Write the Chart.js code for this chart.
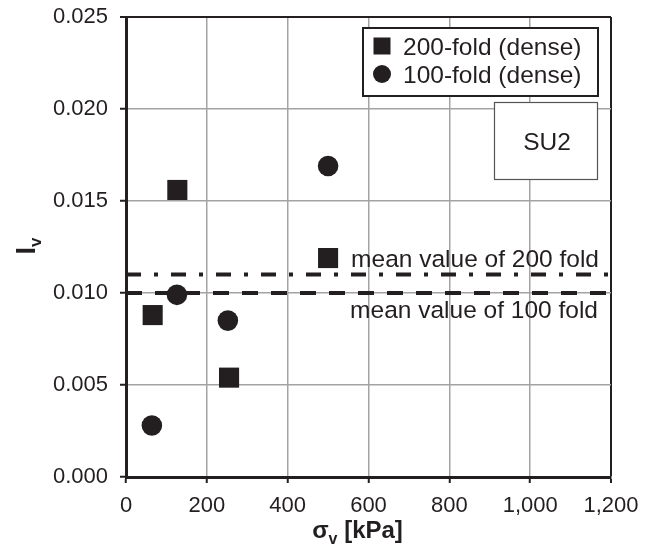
<!DOCTYPE html>
<html><head><meta charset="utf-8">
<script src="https://cdn.jsdelivr.net/npm/chart.js@4/dist/chart.umd.min.js"></script>
<style>html,body{margin:0;padding:0;background:#fff}#wrap{width:654px;height:548px}</style>
</head><body><div id="wrap"><canvas id="c" width="654" height="548"></canvas></div>
<script>
// ---- data ----
const fold200X = [127, 66, 255, 500];
const fold200Y = [0.0156, 0.0088, 0.0054, 0.0119];
const fold100X = [126, 252, 64, 500];
const fold100Y = [0.0099, 0.0085, 0.0028, 0.0169];
const mean200 = 0.0110;
const mean100 = 0.0100;
const xTicks = [0, 200, 400, 600, 800, 1000, 1200];
const yTicks = [0, 0.005, 0.010, 0.015, 0.020, 0.025];
const seriesLabels = ['200-fold (dense)', '100-fold (dense)'];
const meanLabels = ['mean value of 200 fold', 'mean value of 100 fold'];
const panelLabel = 'SU2';

const INK = '#231f20';
const GRID = '#a3a3a3';
const FONT = '"Liberation Sans", Arial, Helvetica, sans-serif';

const pts = (xs, ys) => xs.map((x, i) => ({x: x, y: ys[i]}));
const xMin = xTicks[0], xMax = xTicks[xTicks.length - 1];
const yMin = yTicks[0], yMax = yTicks[yTicks.length - 1];

const overlay = {
  id: 'overlay',
  afterDraw(chart) {
    const ctx = chart.ctx;
    const ys = chart.scales.y;
    ctx.save();
    ctx.fillStyle = INK; ctx.strokeStyle = INK;

    // legend box
    ctx.fillStyle = '#fff';
    ctx.fillRect(363, 28, 235, 68);
    ctx.lineWidth = 2;
    ctx.strokeRect(363, 28, 235, 68);
    ctx.fillStyle = INK;
    ctx.fillRect(373.5, 37.5, 17, 17);
    ctx.beginPath(); ctx.arc(382, 74, 9, 0, Math.PI * 2); ctx.fill();
    ctx.font = '24.5px ' + FONT;
    ctx.textAlign = 'left'; ctx.textBaseline = 'alphabetic';
    ctx.fillText(seriesLabels[0], 403, 54.5);
    ctx.fillText(seriesLabels[1], 403, 82.5);

    // panel label box
    ctx.fillStyle = '#fff';
    ctx.fillRect(494, 102, 104, 77);
    ctx.lineWidth = 1.2; ctx.strokeStyle = '#555';
    ctx.strokeRect(494.5, 102.5, 103, 77);
    ctx.fillStyle = INK;
    ctx.textAlign = 'center';
    ctx.fillText(panelLabel, 547, 150);

    // mean annotations
    ctx.textAlign = 'right';
    ctx.fillText(meanLabels[0], 599, ys.getPixelForValue(mean200) - 8);
    ctx.fillText(meanLabels[1], 598, ys.getPixelForValue(mean100) + 25);

    // x axis title  σ_v [kPa]
    const big = 'bold 24px ' + FONT, small = 'bold 16px ' + FONT;
    ctx.textAlign = 'left';
    ctx.font = big; const w1 = ctx.measureText('σ').width;
    ctx.font = small; const w2 = ctx.measureText('v').width;
    ctx.font = big; const w3 = ctx.measureText(' [kPa]').width;
    const x0 = 357.5 - (w1 + w2 + w3) / 2;
    const by = 538;
    ctx.font = big; ctx.fillText('σ', x0, by);
    ctx.font = small; ctx.fillText('v', x0 + w1, by + 6);
    ctx.font = big; ctx.fillText(' [kPa]', x0 + w1 + w2, by);

    // y axis title  I_v (rotated)
    ctx.translate(35, 246);
    ctx.rotate(-Math.PI / 2);
    const ybig = 'bold 27px ' + FONT, ysmall = 'bold 17px ' + FONT;
    ctx.font = ybig; const u1 = ctx.measureText('I').width;
    ctx.font = ysmall; const u2 = ctx.measureText('v').width;
    const s0 = -(u1 + u2) / 2;
    ctx.font = ybig; ctx.fillText('I', s0, 0);
    ctx.font = ysmall; ctx.fillText('v', s0 + u1, 6);
    ctx.restore();
  }
};

new Chart(document.getElementById('c'), {
  type: 'scatter',
  data: {
    datasets: [
      {label: seriesLabels[0], data: pts(fold200X, fold200Y), pointStyle: 'rect',
       pointRadius: 14.2, pointHoverRadius: 14.2, backgroundColor: INK, borderWidth: 0, order: 2},
      {label: seriesLabels[1], data: pts(fold100X, fold100Y), pointStyle: 'circle',
       pointRadius: 10.3, pointHoverRadius: 10.3, backgroundColor: INK, borderWidth: 0, order: 2},
      {label: meanLabels[0], type: 'line', data: [{x: xMin, y: mean200}, {x: xMax, y: mean200}],
       borderColor: INK, borderWidth: 4, borderDash: [15, 13, 4, 13], pointRadius: 0, showLine: true, order: 1},
      {label: meanLabels[1], type: 'line', data: [{x: xMin, y: mean100}, {x: xMax, y: mean100}],
       borderColor: INK, borderWidth: 4, borderDash: [16, 13], pointRadius: 0, showLine: true, order: 1}
    ]
  },
  options: {
    responsive: false, animation: false, devicePixelRatio: 1,
    layout: {padding: {top: 17, right: 43, left: 0, bottom: 0}},
    plugins: {legend: {display: false}, tooltip: {enabled: false}},
    scales: {
      x: {
        type: 'linear', min: xMin, max: xMax,
        afterBuildTicks: s => { s.ticks = xTicks.map(v => ({value: v})); },
        afterFit: s => { s.height = 71; s.paddingLeft = 0; s.paddingRight = 0; },
        ticks: {autoSkip: false, maxRotation: 0, color: INK, padding: 10,
                font: {family: FONT, size: 22},
                callback: v => Number(v).toLocaleString('en-US')},
        grid: {color: c => (c.tick && c.tick.value === xMax) ? INK : GRID,
               lineWidth: c => (c.tick && c.tick.value === xMax) ? 2 : 1.5,
               tickColor: INK, tickLength: 6, tickWidth: 2},
        border: {color: INK, width: 3},
        title: {display: false}
      },
      y: {
        type: 'linear', min: yMin, max: yMax,
        afterBuildTicks: s => { s.ticks = yTicks.map(v => ({value: v})); },
        afterFit: s => { s.width = 126; s.paddingTop = 0; s.paddingBottom = 0; },
        ticks: {autoSkip: false, color: INK, padding: 12,
                font: {family: FONT, size: 22},
                callback: v => Number(v).toFixed(3)},
        grid: {color: c => (c.tick && Math.abs(c.tick.value - yMax) < 1e-9) ? INK : GRID,
               lineWidth: c => (c.tick && Math.abs(c.tick.value - yMax) < 1e-9) ? 2 : 1.5,
               tickColor: INK, tickLength: 6, tickWidth: 2},
        border: {color: INK, width: 3},
        title: {display: false}
      }
    }
  },
  plugins: [overlay]
});
</script>
</body></html>
